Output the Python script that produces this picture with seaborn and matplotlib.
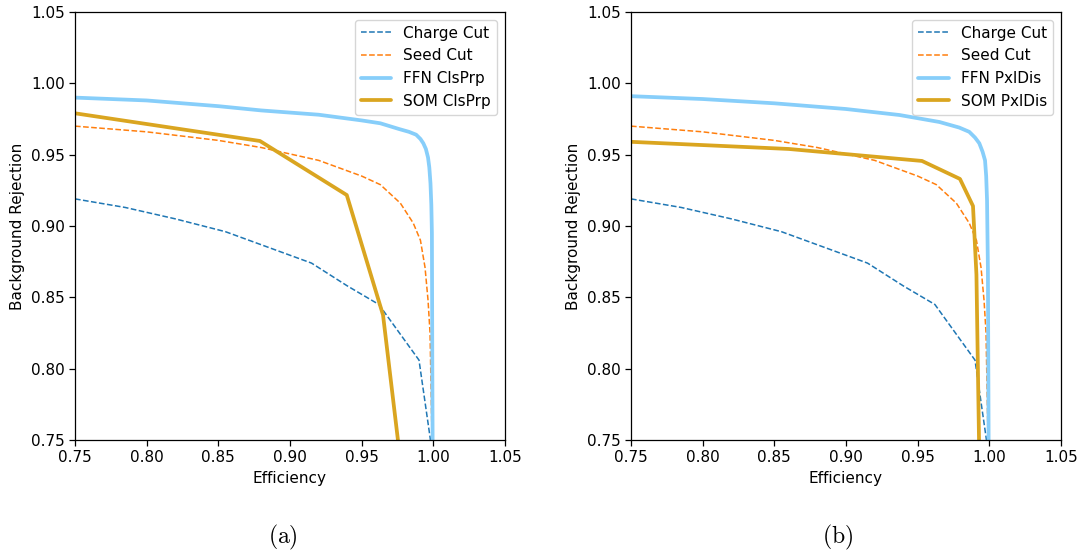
import matplotlib
matplotlib.use("Agg")
import matplotlib.pyplot as plt
import seaborn as sns
import pandas as pd

# Cut-based reference curves (shared by both panels)
charge_eff = [0.75, 0.785, 0.82, 0.855, 0.885, 0.915, 0.94, 0.962, 0.99, 0.998]
charge_rej = [0.919, 0.913, 0.905, 0.896, 0.885, 0.874, 0.858, 0.845, 0.806, 0.75]

seed_eff = [0.75, 0.80, 0.85, 0.88, 0.92, 0.95, 0.963, 0.977, 0.986, 0.991,
            0.9942, 0.9963, 0.9977, 0.9991]
seed_rej = [0.970, 0.966, 0.960, 0.955, 0.946, 0.935, 0.929, 0.916, 0.902, 0.890,
            0.871, 0.848, 0.825, 0.75]

# (a) cluster-property classifiers
ffn_cls_eff = [0.75, 0.80, 0.85, 0.88, 0.92, 0.95, 0.963, 0.976, 0.983, 0.988,
               0.991, 0.993, 0.9948, 0.9963, 0.9972, 0.998, 0.9986, 0.999,
               0.9993, 0.9995]
ffn_cls_rej = [0.990, 0.988, 0.984, 0.981, 0.978, 0.974, 0.972, 0.968, 0.966, 0.964,
               0.961, 0.958, 0.954, 0.948, 0.941, 0.930, 0.915, 0.895, 0.80, 0.75]

som_cls_eff = [0.75, 0.879, 0.9396, 0.9649, 0.9753]
som_cls_rej = [0.979, 0.9596, 0.9217, 0.8376, 0.75]

# (b) pixel-distribution classifiers
ffn_pxl_eff = [0.75, 0.80, 0.85, 0.90, 0.9373, 0.9652, 0.979, 0.986, 0.990, 0.993,
               0.9953, 0.997, 0.9978, 0.9984, 0.999, 0.9993, 0.9995]
ffn_pxl_rej = [0.991, 0.989, 0.986, 0.982, 0.9778, 0.9729, 0.969, 0.966, 0.962, 0.958,
               0.952, 0.946, 0.935, 0.918, 0.87, 0.80, 0.75]

som_pxl_eff = [0.75, 0.86, 0.953, 0.9795, 0.9886, 0.991, 0.9928]
som_pxl_rej = [0.959, 0.954, 0.9456, 0.933, 0.914, 0.866, 0.75]

ticks = [0.75, 0.80, 0.85, 0.90, 0.95, 1.00, 1.05]
tick_labels = ["0.75", "0.80", "0.85", "0.90", "0.95", "1.00", "1.05"]

sns.set_style("ticks")
plt.rcParams["mathtext.fontset"] = "cm"
plt.rcParams["font.family"] = ["DejaVu Sans"]
plt.rcParams["text.color"] = "black"
plt.rcParams["axes.labelcolor"] = "black"

FS = 11

fig = plt.figure(figsize=(10.86, 5.54), dpi=100)
ax_a = fig.add_axes([75 / 1086, 1 - 440 / 554, 430 / 1086, 428 / 554])
ax_b = fig.add_axes([631 / 1086, 1 - 440 / 554, 430 / 1086, 428 / 554])


def curve(eff, rej):
    return pd.DataFrame({"Efficiency": eff, "Background Rejection": rej})


panels = [
    (ax_a, ffn_cls_eff, ffn_cls_rej, "FFN ClsPrp", som_cls_eff, som_cls_rej, "SOM ClsPrp"),
    (ax_b, ffn_pxl_eff, ffn_pxl_rej, "FFN PxlDis", som_pxl_eff, som_pxl_rej, "SOM PxlDis"),
]

for ax, fe, fr, fl, se, sr, sl in panels:
    common = dict(x="Efficiency", y="Background Rejection", ax=ax, sort=False,
                  estimator=None)
    sns.lineplot(data=curve(charge_eff, charge_rej), color="#1f77b4", lw=1.1,
                 linestyle="--", label="Charge Cut", **common)
    sns.lineplot(data=curve(seed_eff, seed_rej), color="#ff7f0e", lw=1.1,
                 linestyle="--", label="Seed Cut", **common)
    sns.lineplot(data=curve(fe, fr), color="#87cefa", lw=2.7, label=fl, **common)
    sns.lineplot(data=curve(se, sr), color="#daa520", lw=2.7, label=sl, **common)
    ax.set_xlim(0.75, 1.05)
    ax.set_ylim(0.75, 1.05)
    ax.set_xticks(ticks)
    ax.set_xticklabels(tick_labels)
    ax.set_yticks(ticks)
    ax.set_yticklabels(tick_labels)
    ax.tick_params(labelsize=FS, colors="black", length=4, width=0.9)
    for s in ax.spines.values():
        s.set_color("black")
        s.set_linewidth(0.9)
    ax.set_xlabel("Efficiency", fontsize=FS)
    ax.set_ylabel("Background Rejection", fontsize=FS)
    ax.legend(loc="upper right", fontsize=FS)

fig.text(283 / 1086, 1 - 537 / 554, r"$\mathrm{(a)}$", ha="center", va="center", fontsize=17)
fig.text(838 / 1086, 1 - 537 / 554, r"$\mathrm{(b)}$", ha="center", va="center", fontsize=17)

fig.savefig("out.png", dpi=100)
